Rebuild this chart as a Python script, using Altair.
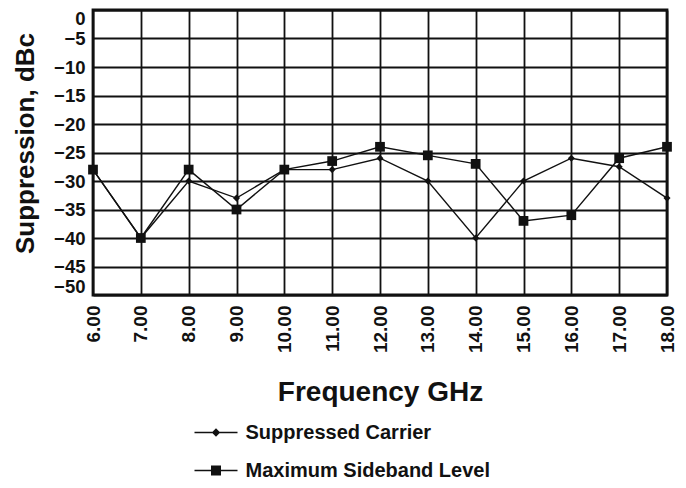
import altair as alt
import pandas as pd

freq = [6, 7, 8, 9, 10, 11, 12, 13, 14, 15, 16, 17, 18]
carrier = [-28, -40, -30, -33, -28, -28, -26, -30, -40, -30, -26, -27.5, -33]
sideband = [-28, -40, -28, -35, -28, -26.5, -24, -25.5, -27, -37, -36, -26, -24]
series_names = ["Suppressed Carrier", "Maximum Sideband Level"]
x_ticks = freq
y_ticks = [0, -5, -10, -15, -20, -25, -30, -35, -40, -45, -50]

rows = []
for f, c in zip(freq, carrier):
    rows.append({"freq": f, "val": c, "series": series_names[0]})
for f, s in zip(freq, sideband):
    rows.append({"freq": f, "val": s, "series": series_names[1]})
df = pd.DataFrame(rows)

FONT = "Liberation Sans"
W, H = 574, 285

x_enc = alt.X(
    "freq:Q",
    scale=alt.Scale(domain=[6, 18], nice=False, zero=False),
    axis=alt.Axis(
        values=x_ticks, format=".2f", title="Frequency GHz",
        labelAngle=270, labelAlign="right", labelBaseline="middle",
        labelFontSize=19, labelFont=FONT, labelFontWeight="bold", labelColor="#111",
        labelPadding=10, ticks=False, domain=False, labelFlush=False, labelOverlap=False,
        grid=True, gridColor="#111", gridWidth=1.8, gridOpacity=1,
        titleFontSize=28, titleFont=FONT, titleFontWeight="bold", titleColor="#111",
        titleX=287, titleY=97, titleBaseline="middle", titleAlign="center",
    ),
)
y_enc = alt.Y(
    "val:Q",
    scale=alt.Scale(domain=[-50, 0], nice=False, zero=False),
    axis=alt.Axis(
        values=y_ticks, title="Suppression, dBc",
        labelFontSize=18.5, labelFont=FONT, labelFontWeight="bold", labelColor="#111",
        labelPadding=8, ticks=False, domain=False,
        labelFlush=True, labelFlushOffset=1, labelOverlap=False,
        grid=True, gridColor="#111", gridWidth=1.8, gridOpacity=1,
        titleFontSize=26, titleFont=FONT, titleFontWeight="bold", titleColor="#111",
        titleAngle=270, titleX=-68, titleY=133, titleBaseline="middle", titleAlign="center",
    ),
)

base = alt.Chart(df)

lines = base.mark_line(color="#111", strokeWidth=1.4).encode(
    x=x_enc, y=y_enc, detail="series:N"
)

points = base.mark_point(filled=True, color="#111", opacity=1).encode(
    x=x_enc, y=y_enc,
    shape=alt.Shape("series:N", scale=alt.Scale(domain=series_names, range=["diamond", "square"]), legend=None),
    size=alt.Size("series:N", scale=alt.Scale(domain=series_names, range=[50, 95]), legend=None),
)

# legend glyphs: a thin filled bar (the line) plus the marker
path_carrier = "M-2.15,-0.075L2.15,-0.075L2.15,0.075L-2.15,0.075Z M0,-0.42L0.42,0L0,0.42L-0.42,0Z"
path_sideband = "M-2.15,-0.075L2.15,-0.075L2.15,0.075L-2.15,0.075Z M-0.5,-0.5L0.5,-0.5L0.5,0.5L-0.5,0.5Z"

legend_layer = base.mark_point(filled=True, color="#111", opacity=1).encode(
    x=x_enc, y=y_enc,
    shape=alt.Shape(
        "series:N",
        scale=alt.Scale(domain=series_names, range=[path_carrier, path_sideband]),
        legend=alt.Legend(
            title=None, orient="none", legendX=112.5, legendY=412, direction="vertical",
            symbolSize=400, symbolFillColor="#111", symbolStrokeColor="#111",
            symbolStrokeWidth=0.6, symbolOpacity=1,
            labelFont=FONT, labelFontSize=20, labelFontWeight="bold", labelColor="#111",
            labelOffset=19, rowPadding=17, padding=0, labelLimit=400,
        ),
    ),
).transform_filter("false")

chart = alt.layer(lines, points, legend_layer).resolve_scale(
    shape="independent", size="independent"
).properties(
    width=W, height=H,
    padding={"left": 85, "top": 2, "right": 11, "bottom": 185},
    autosize=alt.AutoSizeParams(type="none"),
    background="white",
).configure_view(
    stroke="#111", strokeWidth=2.8
)

chart.save("out.html", embed_options={"renderer": "svg", "actions": False})
